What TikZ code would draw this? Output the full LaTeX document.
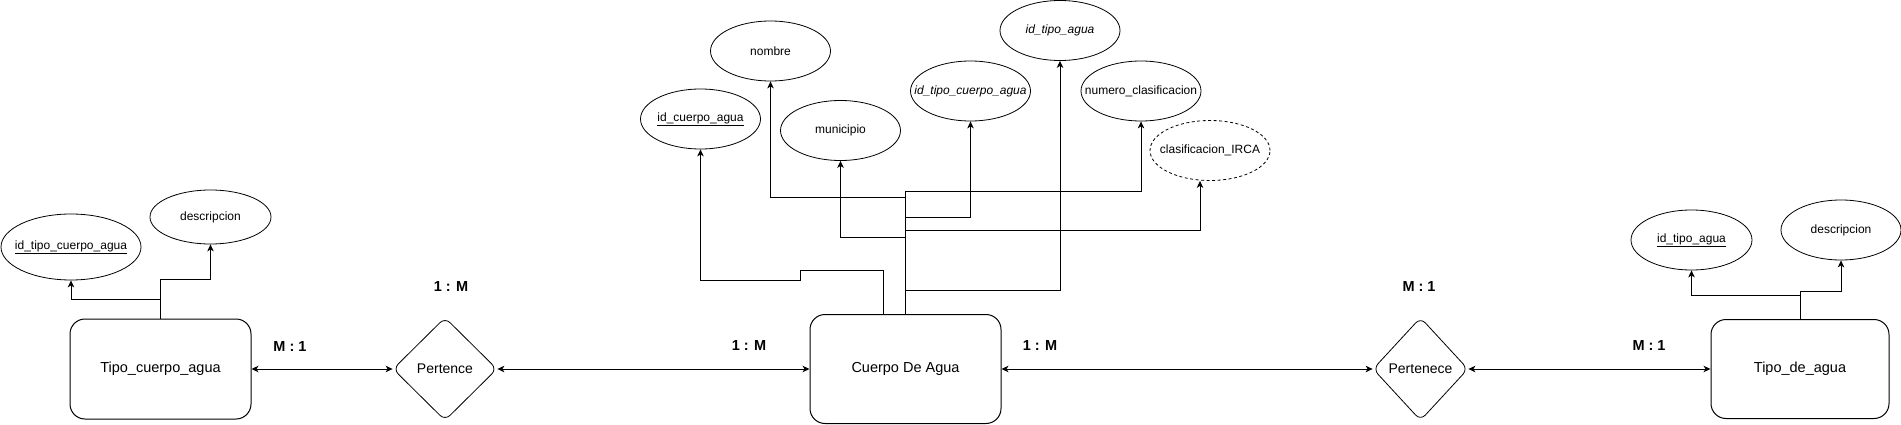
\documentclass[tikz,border=0pt]{standalone}
\usepackage{fontspec}
\setmainfont{Liberation Sans}
\usetikzlibrary{shapes.geometric,arrows.meta}
\newcommand\atxt[1]{\makebox[0pt]{#1}}
\begin{document}
\begin{tikzpicture}[x=1pt,y=-1pt,
  ent/.style={draw, rounded corners=15pt, inner sep=0pt, line width=1pt, font=\fontsize{14.5}{17}\selectfont},
  rel/.style={draw, diamond, rounded corners=7pt, inner sep=0pt, line width=0.8pt, font=\fontsize{14}{16}\selectfont},
  attr/.style={draw, ellipse, inner sep=0pt, minimum width=120pt, minimum height=60pt, line width=0.8pt, font=\fontsize{12}{14}\selectfont},
  card/.style={font=\bfseries\fontsize{14.5}{17}\selectfont},
  conn/.style={line width=1pt, -{Stealth[length=7pt,width=6.5pt,inset=2pt]}},
  twoway/.style={line width=1pt, {Stealth[length=7pt,width=6.5pt,inset=2pt]}-{Stealth[length=7pt,width=6.5pt,inset=2pt]}}
]
\useasboundingbox (0,0) rectangle (1901,425);

% entities
\node[ent, minimum width=181pt, minimum height=100pt] (ltype) at (160.5,369) {Tipo\_cuerpo\_agua};
\node[ent, minimum width=191pt, minimum height=109pt] (cda) at (905.5,369) {Cuerpo De Agua};
\node[ent, minimum width=178pt, minimum height=99pt] (tda) at (1800,369) {Tipo\_de\_agua};

% relationships
\node[rel, minimum width=104pt, minimum height=103pt] (r1) at (445,369) {Pertence};
\node[rel, minimum width=95pt, minimum height=103pt] (r2) at (1420.5,369) {Pertenece};

% left attributes
\node[attr, minimum width=140pt, minimum height=66pt] (lid) at (71,247) {\atxt{\underline{id\_tipo\_cuerpo\_agua}}};
\node[attr, minimum width=121pt, minimum height=54pt] (ldesc) at (210.5,217) {\atxt{descripcion}};

% middle attributes
\node[attr] (nombre) at (770.5,51) {\atxt{nombre}};
\node[attr] (icda) at (700.5,119) {\atxt{\underline{id\_cuerpo\_agua}}};
\node[attr] (muni) at (840.5,130.5) {\atxt{municipio}};
\node[attr] (itca) at (970.5,91) {\atxt{\itshape id\_tipo\_cuerpo\_agua}};
\node[attr] (itipo) at (1060,30.5) {\atxt{\itshape id\_tipo\_agua}};
\node[attr] (numero) at (1141,91) {\atxt{numero\_clasificacion}};
\node[attr, dashed, dash pattern=on 3pt off 2.5pt] (irca) at (1210,150.5) {\atxt{clasificacion\_IRCA}};

% right attributes
\node[attr, minimum width=121pt] (rid) at (1691.5,240) {\atxt{\underline{id\_tipo\_agua}}};
\node[attr] (rdesc) at (1841,230) {\atxt{descripcion}};

% cardinalities
\node[card] (c1) at (290,347) {M : 1};
\node[card] (c2) at (451,287) {1 : M};
\node[card] (c3) at (749,346) {1 : M};
\node[card] (c4) at (1040,346) {1 : M};
\node[card] (c5) at (1419,287) {M : 1};
\node[card] (c6) at (1649,346) {M : 1};

% horizontal relations
\draw[twoway] (ltype.east) -- (r1.west);
\draw[twoway] (r1.east) -- (cda.west);
\draw[twoway] (cda.east) -- (r2.west);
\draw[twoway] (r2.east) -- (tda.west);

% left attribute links
\draw[conn] (ltype.north) -- (ltype.north |- 0,279) -| (ldesc.south);
\draw[conn] (ltype.north) -- (ltype.north |- 0,299) -| (lid.south);

% middle attribute links
\draw[conn] (cda.north) -- (cda.north |- 0,290) -| (itipo.south);
\draw[conn] (cda.north) -- (cda.north |- 0,237) -| (muni.south);
\draw[conn] (cda.north) -- (cda.north |- 0,230) -| ([xshift=-10pt]irca.south);
\draw[conn] (cda.north) -- (cda.north |- 0,217) -| (itca.south);
\draw[conn] (cda.north) -- (cda.north |- 0,197) -| (nombre.south);
\draw[conn] (cda.north) -- (cda.north |- 0,191) -| (numero.south);
\draw[conn] ([xshift=-22.5pt]cda.north) -- ++(0,-44) -- ++(-83,0) -- ++(0,10) -| (icda.south);

% right attribute links
\draw[conn] (tda.north) -- (tda.north |- 0,291) -| (rdesc.south);
\draw[conn] (tda.north) -- (tda.north |- 0,295) -| (rid.south);
\end{tikzpicture}
\end{document}
